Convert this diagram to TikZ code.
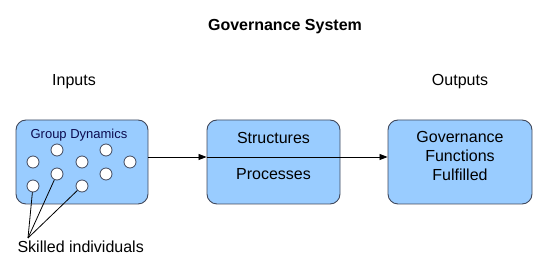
\documentclass[tikz,border=0pt]{standalone}
\usepackage{fontspec}
\setmainfont{Liberation Sans}
\usepackage{tikz}
\usetikzlibrary{arrows.meta, positioning, calc}
\definecolor{boxblue}{RGB}{153, 204, 255}
\definecolor{boxedge}{RGB}{64, 72, 92}
\definecolor{navytext}{RGB}{12, 12, 80}

\begin{document}
\begin{tikzpicture}[x=1pt, y=-1pt, every node/.style={font=\fontsize{16}{19}\selectfont},
    govbox/.style={draw=boxedge, fill=boxblue, rounded corners=10pt, line width=0.9pt,
                   minimum height=84pt, inner sep=0pt},
    member/.style={draw=boxedge, fill=white, circle, minimum size=12pt, inner sep=0pt, line width=0.8pt},
    flow/.style={-{Triangle[length=8pt, width=6pt]}, line width=0.8pt}]
        \useasboundingbox (0,0) rectangle (555,280);

        % TITLES
        \node[font=\fontsize{16}{19}\selectfont\bfseries] (title) at (285,27) {Governance System};
        \node (inputs) at (74,82) {Inputs};
        \node (outputs) at (460,82) {Outputs};

        % BOXES
        \node[govbox, minimum width=132pt] (gd) at (82,162) {};
        \node[govbox, minimum width=133pt] (sp) at (273.5,162) {};
        \node[govbox, minimum width=144pt] (gf) at (460,162) {};
        \node[font=\fontsize{13}{15}\selectfont, text=navytext] (gdtxt) at (79,135) {Group Dynamics};
        \node[align=center, font=\fontsize{16}{36}\selectfont] (sptxt) at ([yshift=6pt]sp.center) {Structures\\Processes};
        \node[align=center] (gftxt) at ([yshift=6pt]gf.center) {Governance\\Functions\\Fulfilled};

        % MEMBERS
        \node[member] (m1) at (33,162) {};
        \node[member] (m2) at (57,150) {};
        \node[member] (m3) at (82,162) {};
        \node[member] (m4) at (106,150) {};
        \node[member] (m5) at (130,162) {};
        \node[member] (m6) at (57,174) {};
        \node[member] (m7) at (106,174) {};
        \node[member] (m8) at (33,186) {};
        \node[member] (m9) at (82,186) {};

        % FLOW
        \draw[flow] ([yshift=5pt]gd.east) -- ([yshift=5pt]sp.west);
        \draw[flow] ([yshift=5pt]sp.west) -- ([yshift=5pt]gf.west);

        % SKILLED
        \node[anchor=west] (si) at (14,247) {Skilled individuals};
        \coordinate (sitop) at (28,238);
        \draw[line width=0.8pt] (sitop) -- (m8);
        \draw[line width=0.8pt] (sitop) -- (m6);
        \draw[line width=0.8pt] (sitop) -- (m9);
      \end{tikzpicture}
\end{document}
